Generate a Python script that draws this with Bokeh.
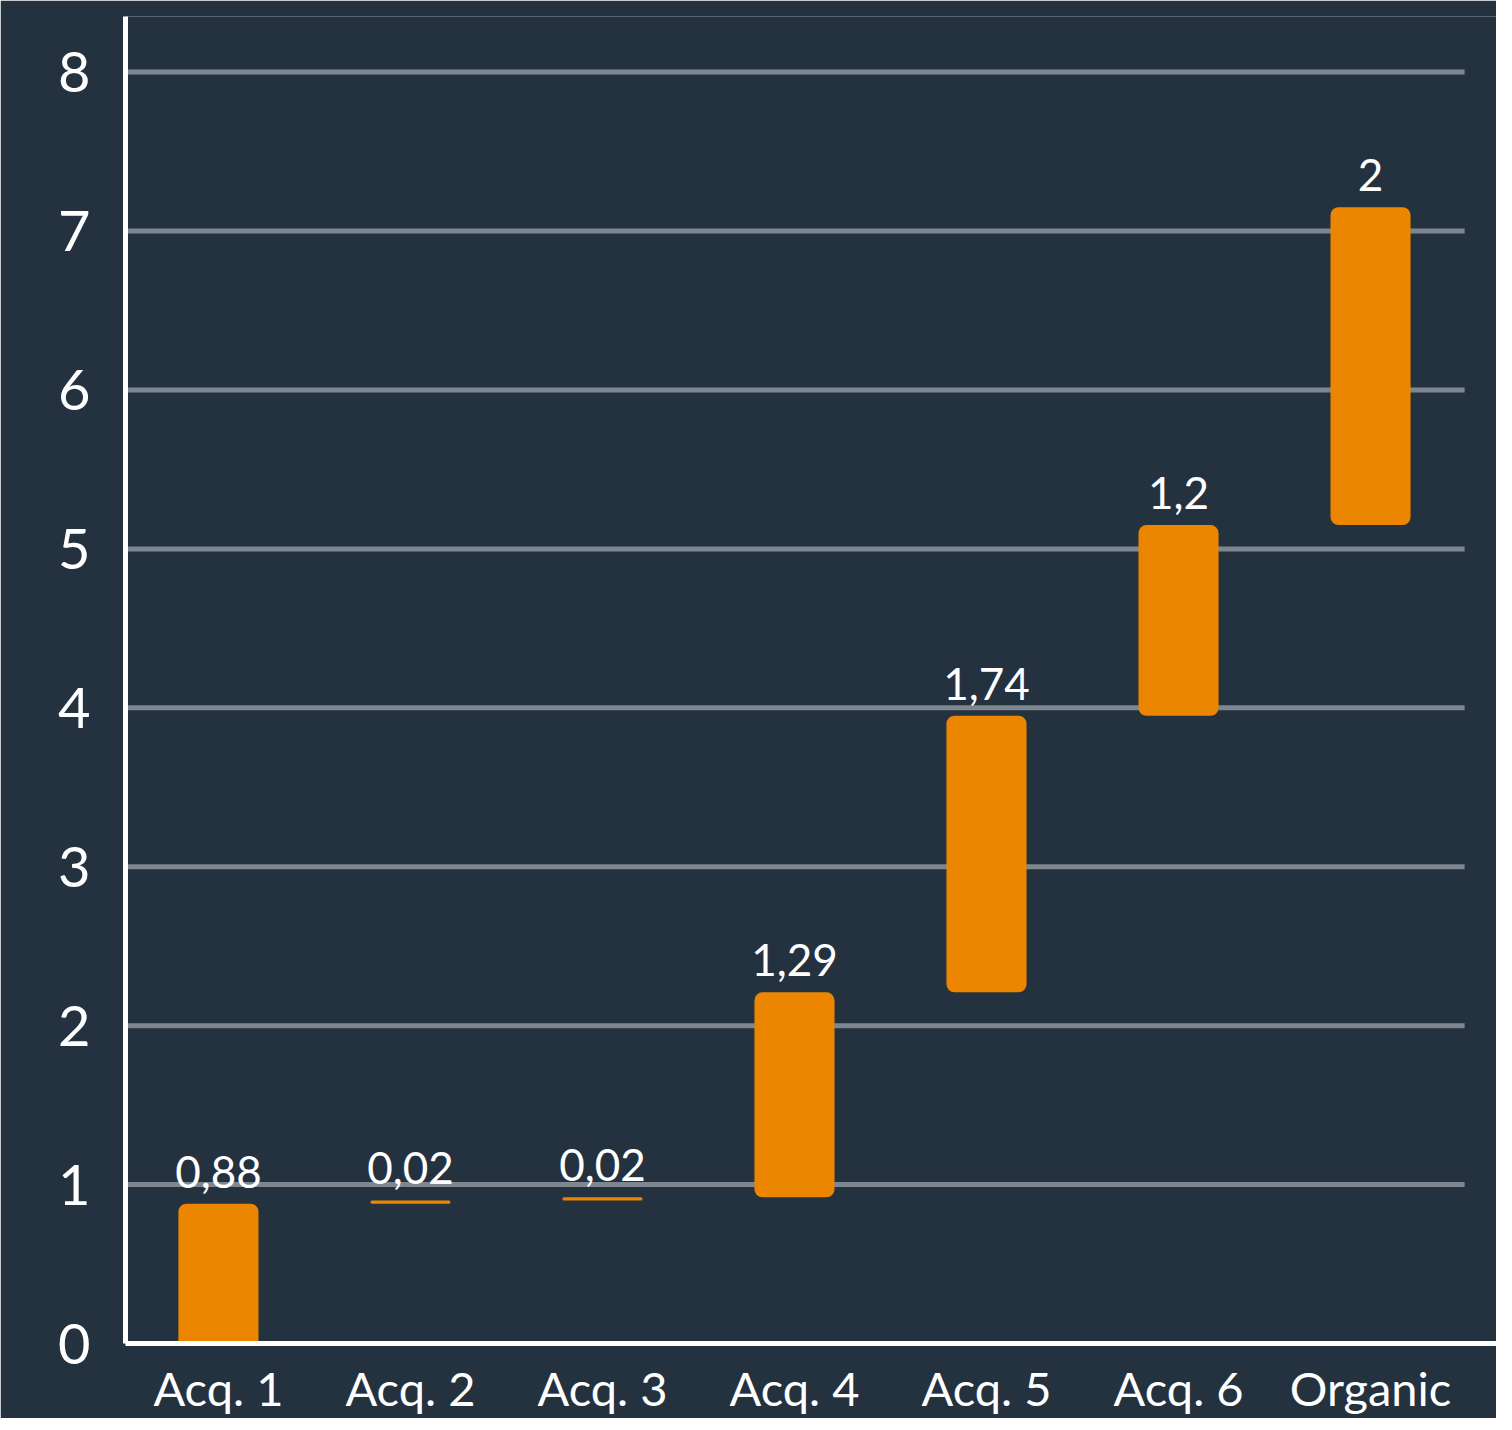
import numpy as np
from bokeh.plotting import figure
from bokeh.models import Range1d, FixedTicker
from bokeh.core.properties import value
from bokeh.embed import file_html
from bokeh.resources import INLINE

# ---- data ----
categories = ["Acq. 1", "Acq. 2", "Acq. 3", "Acq. 4", "Acq. 5", "Acq. 6", "Organic"]
increments = [0.88, 0.02, 0.02, 1.29, 1.74, 1.2, 2.0]
y_ticks = [0, 1, 2, 3, 4, 5, 6, 7, 8]

tops = [float(v) for v in np.cumsum(increments)]
bottoms = [0.0] + tops[:-1]
xs = list(range(len(categories)))
labels = [f"{v:g}".replace(".", ",") for v in increments]

# ---- style ----
BG = "#24323f"
ORANGE = "#EC8600"
GRID = "#7e878f"
FONT = "Lato"
X_START, X_END, GRID_END = -0.484, 6.656, 6.49

p = figure(
    frame_width=1371, frame_height=1327,
    min_border_left=125, min_border_right=0, min_border_top=16, min_border_bottom=71,
    x_range=Range1d(X_START, X_END), y_range=Range1d(0, 8.35),
    output_backend="svg", toolbar_location=None,
)
p.background_fill_color = BG
p.border_fill_color = BG
p.outline_line_color = None
p.xgrid.visible = False
p.ygrid.visible = False

# horizontal grid lines (end before the right edge, as in the reference)
p.segment(x0=X_START, x1=GRID_END, y0=y_ticks[1:], y1=y_ticks[1:],
          line_color=GRID, line_width=5, level="underlay")

# bars
p.vbar(x=xs[:1], width=0.417, top=tops[:1], bottom=bottoms[:1],
       fill_color=ORANGE, line_color=None, border_radius=(8, 8, 0, 0))
p.vbar(x=xs[1:], width=0.417, top=tops[1:], bottom=bottoms[1:],
       fill_color=ORANGE, line_color=None, border_radius=8)

# value labels
p.text(x=xs, y=tops, text=labels, text_align="center", text_baseline="alphabetic",
       y_offset=-32, text_font=value(FONT), text_font_size="44px", text_color="white")

# axes
for ax in (p.xaxis, p.yaxis):
    ax.axis_line_color = "white"
    ax.axis_line_width = 5
    ax.major_tick_line_color = None
    ax.minor_tick_line_color = None
    ax.major_label_text_color = "white"
    ax.major_label_text_font = FONT

p.xaxis.ticker = FixedTicker(ticks=xs)
p.xaxis.major_label_overrides = {i: c for i, c in zip(xs, categories)}
p.xaxis.major_label_text_font_size = "47px"
p.xaxis.major_label_standoff = 10

p.yaxis.ticker = FixedTicker(ticks=y_ticks)
p.yaxis.major_label_text_font_size = "56px"
p.yaxis.major_label_standoff = 29

open("out.html", "w").write(file_html(p, INLINE))
